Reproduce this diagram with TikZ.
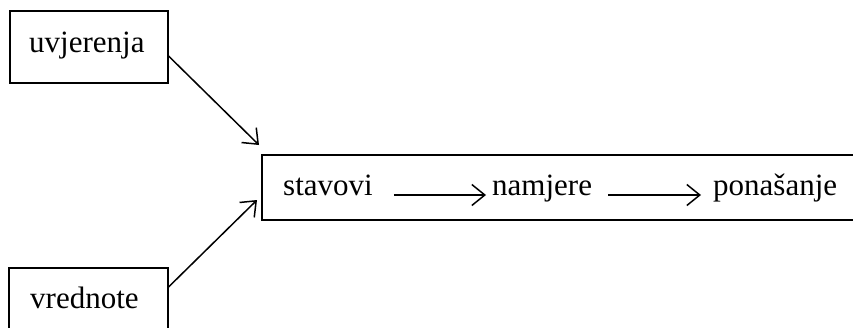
\documentclass[tikz,border=0pt]{standalone}
\usepackage{fontspec}
\setmainfont{Liberation Serif}
\usetikzlibrary{arrows.meta}
\begin{document}
\begin{tikzpicture}[x=1pt,y=-1pt,
  every node/.style={font=\fontsize{31}{36}\selectfont},
  box/.style={draw,line width=1.1pt,inner sep=0pt},
  word/.style={inner sep=0pt,anchor=base west},
  conn/.style={line width=1.5pt,-{Straight Barb[length=13pt,width=21pt,line width=1.5pt]}}]
\useasboundingbox (0,0) rectangle (853,327);
% boxes
\node[box,minimum width=158pt,minimum height=72pt] (u) at (89,47) {};
\node[word] (ut) at (29,52) {uvjerenja};
\node[box,minimum width=159pt,minimum height=80pt] (v) at (88.5,308) {};
\node[word] (vt) at (30,308) {vrednote};
\node[box,minimum width=620pt,minimum height=65pt] (m) at (572,187.5) {};
% inner words
\node[word] (s) at (283,195) {stavovi};
\node[word] (n) at (492,195) {namjere};
\node[word] (p) at (713,195) {ponašanje};
% connector ends
\coordinate (t1) at (259,145);
\coordinate (t2) at (257,200);
\draw[conn] ([yshift=-9pt]u.east) -- (t1);
\draw[conn] ([yshift=21pt]v.east) -- (t2);
\draw[conn] ([xshift=21pt]s.base east) -- ([xshift=-6pt]n.base west);
\draw[conn] ([xshift=16pt]n.base east) -- ([xshift=-12pt]p.base west);
\end{tikzpicture}
\end{document}
